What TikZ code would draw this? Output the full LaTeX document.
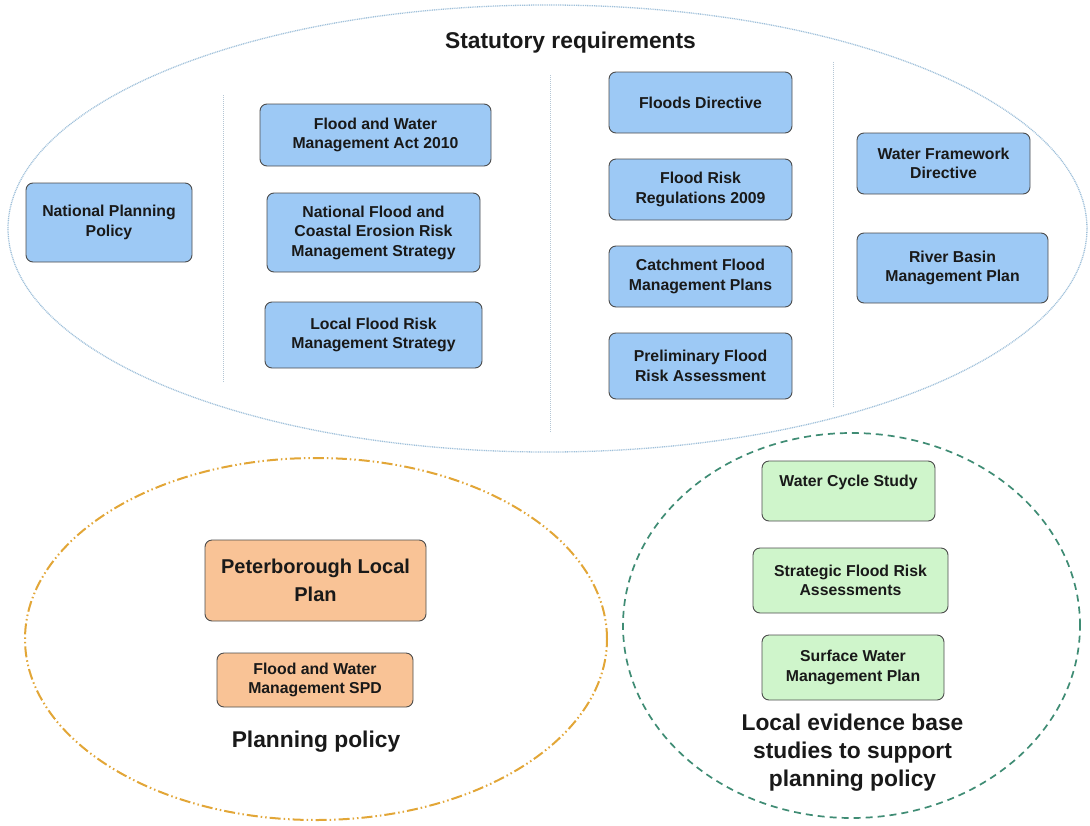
\documentclass[tikz,border=0pt]{standalone}
\usepackage{fontspec}
\setmainfont{Liberation Sans}
\usetikzlibrary{shapes.geometric}
\definecolor{reqfill}{HTML}{9DC9F5}
\definecolor{planfill}{HTML}{F9C396}
\definecolor{studyfill}{HTML}{CFF5CB}
\definecolor{reqline}{HTML}{9FC0DA}
\definecolor{planline}{HTML}{E2A637}
\definecolor{studyline}{HTML}{3F8C74}
\definecolor{sepline}{HTML}{B4C6D4}
\begin{document}
\begin{tikzpicture}[x=1pt,y=-1pt,
	box/.style={draw=black!70, line width=0.9pt, rounded corners=7pt, align=center, inner sep=0pt,
		text=black!90, font=\bfseries\fontsize{15.8}{19.5}\selectfont},
	reqbox/.style={box, fill=reqfill},
	planbox/.style={box, fill=planfill},
	studybox/.style={box, fill=studyfill},
	area/.style={ellipse, inner sep=0pt},
	sep/.style={draw=sepline, line width=1pt, dash pattern=on 1pt off 1pt},
	heading/.style={align=center, text=black!90, font=\bfseries\fontsize{22.8}{28}\selectfont}]
	\useasboundingbox (0,0) rectangle (1090,825);
	% the three areas
		\node[area, draw=reqline, line width=1.3pt, dash pattern=on 1pt off 0.8pt,
			minimum width=1079pt, minimum height=447pt] (req) at (547.5,228.5) {};
		\node[area, draw=planline, line width=2pt, dash pattern=on 11pt off 3pt on 1.5pt off 3pt on 1.5pt off 3pt,
			minimum width=582pt, minimum height=362pt] (plan) at (316,639) {};
		\node[area, draw=studyline, line width=1.7pt, dash pattern=on 7pt off 5pt,
			minimum width=457pt, minimum height=385pt] (study) at (851.5,625.5) {};
	% separators
		\coordinate (s1a) at (223,95);  \coordinate (s1b) at (223,382);
		\coordinate (s2a) at (550,75);  \coordinate (s2b) at (550,433);
		\coordinate (s3a) at (833,62);  \coordinate (s3b) at (833,408);
		\draw[sep] (s1a) -- (s1b);
		\draw[sep] (s2a) -- (s2b);
		\draw[sep] (s3a) -- (s3b);
	% statutory requirements
		\node[heading] (reqt) at (570.5,43) {Statutory requirements};
		\node[reqbox, minimum width=166pt, minimum height=79pt] (np) at (109,222.5) {National Planning\\Policy};
		\node[reqbox, minimum width=231pt, minimum height=62pt] (fwma) at (375.5,135) {Flood and Water\\Management Act 2010};
		\node[reqbox, minimum width=213pt, minimum height=79pt] (nfcerm) at (373.5,232.5) {National Flood and\\Coastal Erosion Risk\\Management Strategy};
		\node[reqbox, minimum width=217pt, minimum height=66pt] (lfrm) at (373.5,335) {Local Flood Risk\\Management Strategy};
		\node[reqbox, minimum width=183pt, minimum height=61pt] (fd) at (700.5,102.5) {Floods Directive};
		\node[reqbox, minimum width=183pt, minimum height=61pt] (frr) at (700.5,189.5) {Flood Risk\\Regulations 2009};
		\node[reqbox, minimum width=183pt, minimum height=61pt] (cfmp) at (700.5,276.5) {Catchment Flood\\Management Plans};
		\node[reqbox, minimum width=183pt, minimum height=66pt] (pfra) at (700.5,366) {Preliminary Flood\\Risk Assessment};
		\node[reqbox, minimum width=173pt, minimum height=61pt] (wfd) at (943.5,163.5) {Water Framework\\Directive};
		\node[reqbox, minimum width=191pt, minimum height=70pt] (rbmp) at (952.5,268) {River Basin\\Management Plan};
	% planning policy
		\node[planbox, minimum width=221pt, minimum height=81pt, font=\bfseries\fontsize{20}{20}\selectfont] (plp) at (315.5,580.5) {Peterborough Local\\[8pt]Plan};
		\node[planbox, minimum width=196pt, minimum height=54pt] (fwspd) at (315,680) {Flood and Water\\Management SPD};
		\node[heading] (plant) at (316,742) {Planning policy};
	% local evidence base
		\node[studybox, minimum width=173pt, minimum height=60pt] (wcs) at (848.5,491) {Water Cycle Study\\\mbox{}};
		\node[studybox, minimum width=195pt, minimum height=65pt] (sfra) at (850.5,580.5) {Strategic Flood Risk\\Assessments};
		\node[studybox, minimum width=182pt, minimum height=65pt] (swmp) at (853,667.5) {Surface Water\\Management Plan};
		\node[heading] (studyt) at (852.5,753) {Local evidence base\\studies to support\\planning policy};
\end{tikzpicture}
\end{document}
